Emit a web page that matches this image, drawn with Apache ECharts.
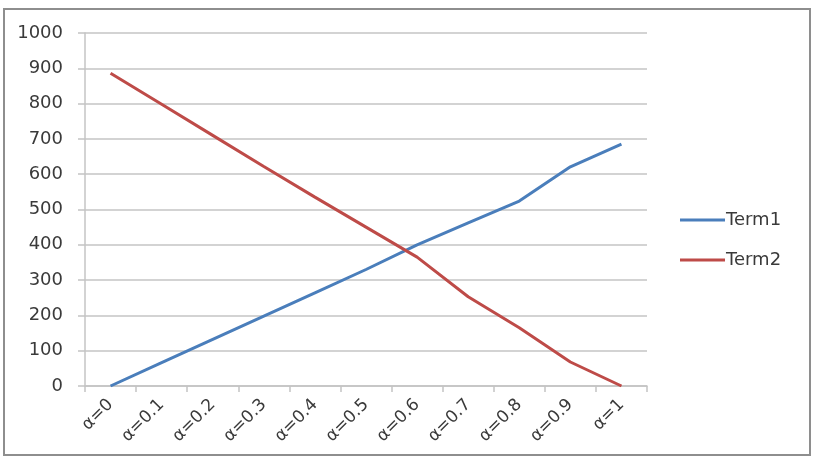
<!DOCTYPE html>
<html>
<head>
    <meta charset="utf-8">
    <title>Term1 / Term2</title>
    <script type="text/javascript" src="https://cdn.jsdelivr.net/npm/echarts@6/dist/echarts.min.js"></script>
    <style>
        html, body { margin: 0; padding: 0; background: #fff; }
    </style>
</head>
<body>
    <div id="main" style="width: 819px;height:459px;"></div>
    <script type="text/javascript">
        // data
        var categories = ['α=0', 'α=0.1', 'α=0.2', 'α=0.3', 'α=0.4', 'α=0.5', 'α=0.6', 'α=0.7', 'α=0.8', 'α=0.9', 'α=1'];
        var term1 = [0, 66, 132, 198, 264, 330, 400, 462, 524, 621, 685];
        var term2 = [886, 798, 710, 622, 535, 450, 365, 253, 165, 68, 0];

        var textColor = '#3a3a3a';
        var gridColor = '#c4c4c4';

        var myChart = echarts.init(document.getElementById('main'));
        var option = {
            backgroundColor: '#fff',
            animation: false,
            textStyle: { fontFamily: 'DejaVu Sans' },
            graphic: [{
                type: 'rect',
                shape: { x: 4, y: 9, width: 806, height: 446 },
                style: { fill: null, stroke: '#8e8e8e', lineWidth: 2 }
            }],
            grid: { left: 85, right: 172, top: 33, bottom: 73 },
            legend: {
                orient: 'vertical',
                left: 680,
                top: 211,
                padding: 0,
                icon: 'rect',
                itemWidth: 45,
                itemHeight: 3,
                itemGap: 22,
                textStyle: { color: textColor, fontSize: 18, fontFamily: 'DejaVu Sans', padding: [0, 0, 0, -4] },
                data: ['Term1', 'Term2']
            },
            xAxis: {
                type: 'category',
                data: categories,
                boundaryGap: true,
                axisLine: { lineStyle: { color: gridColor, width: 1.5 } },
                axisTick: { show: true, length: 6, lineStyle: { color: gridColor, width: 1.5 } },
                axisLabel: { rotate: 45, color: textColor, fontSize: 17, fontFamily: 'DejaVu Sans', margin: 16, interval: 0 }
            },
            yAxis: {
                type: 'value',
                min: 0,
                max: 1000,
                interval: 100,
                axisLine: { show: true, lineStyle: { color: gridColor, width: 1.5 } },
                axisTick: { show: true, length: 7, lineStyle: { color: gridColor, width: 1.5 } },
                axisLabel: {
                    color: textColor, fontSize: 18, margin: 22,
                    formatter: function (v) { return String(v); }
                },
                splitLine: { lineStyle: { color: gridColor, width: 1.5 } }
            },
            series: [{
                name: 'Term1',
                type: 'line',
                data: term1,
                symbol: 'none',
                color: '#4a7ebb',
                lineStyle: { width: 3, color: '#4a7ebb' }
            }, {
                name: 'Term2',
                type: 'line',
                data: term2,
                symbol: 'none',
                color: '#be4b48',
                lineStyle: { width: 3, color: '#be4b48' }
            }]
        };
        myChart.setOption(option);
    </script>
</body>
</html>
